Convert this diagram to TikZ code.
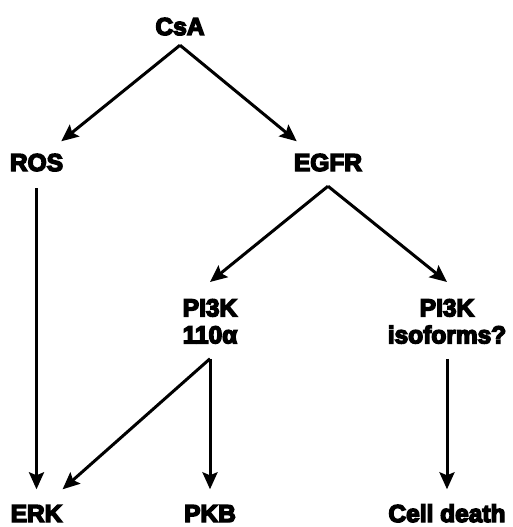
\documentclass[tikz,border=0pt]{standalone}
\usepackage{fontspec}
\newfontfamily\labfont{Liberation Sans}[UprightFont={* Bold}, FakeBold=6]
\usetikzlibrary{arrows.meta}
\tikzset{
  lab/.style={font=\labfont\fontsize{24.5}{27}\selectfont, inner sep=0pt, text height=17.5pt, text depth=0pt, anchor=base},
  lab2/.style={font=\labfont\fontsize{24.5}{27}\selectfont, inner sep=0pt, align=center, anchor=north},
  arr/.style={line width=3pt, -{Stealth[length=17pt,width=15pt,inset=3pt]}}
}
\begin{document}
\begin{tikzpicture}[x=1pt,y=-1pt]
\useasboundingbox (0,0) rectangle (513,527);
\node[lab] (CsA) at (180,35) {CsA};
\node[lab] (ROS) at (36.5,171) {ROS};
\node[lab] (EGFR) at (328,171) {EGFR};
\node[lab2] (P110) at (210,299) {PI3K\\110α};
\node[lab2] (Piso) at (447,299) {PI3K\\isoforms?};
\node[lab] (ERK) at (36.5,522) {ERK};
\node[lab] (PKB) at (210,522) {PKB};
\node[lab] (death) at (447,522) {Cell death};

\draw[arr] ([yshift=-10pt]CsA.south) -- ([xshift=-2pt,yshift=12pt]ROS.north east);
\draw[arr] ([yshift=-10pt]CsA.south) -- ([xshift=3pt,yshift=12pt]EGFR.north west);
\draw[arr] ([yshift=-15pt]EGFR.south) -- ([yshift=17pt]P110.north);
\draw[arr] ([yshift=-15pt]EGFR.south) -- ([yshift=17pt]Piso.north);
\draw[arr] ([yshift=-17pt]ROS.south) -- ([yshift=15pt]ERK.north);
\draw[arr] ([yshift=-15pt]P110.south) -- ([yshift=15pt]PKB.north);
\draw[arr] ([yshift=-15pt]P110.south) -- ([yshift=15pt]ERK.north east);
\draw[arr] ([yshift=-15pt]Piso.south) -- ([yshift=15pt]death.north);
\end{tikzpicture}
\end{document}
